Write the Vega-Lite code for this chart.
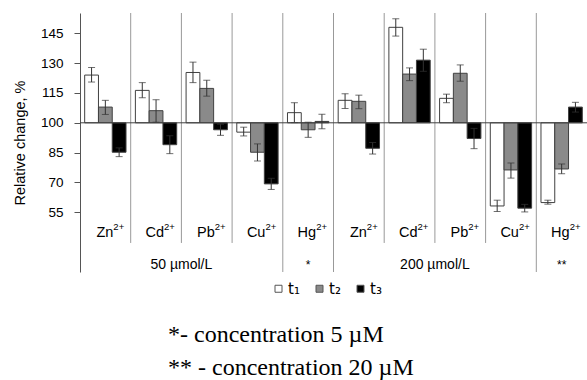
{
  "$schema": "https://vega.github.io/schema/vega-lite/v6.json",
  "width": 507,
  "height": 259,
  "autosize": {"type": "none"},
  "padding": {"left": 80, "top": 13, "right": 0, "bottom": 108},
  "background": "white",
  "config": {"view": {"stroke": null}, "font": "Liberation Sans"},
  "title": {
    "text": ["*- concentration 5 µM", "\u00a0** - concentration 20 µM"],
    "orient": "bottom",
    "anchor": "start",
    "frame": "group",
    "dx": 88,
    "offset": 26,
    "font": "Liberation Serif",
    "fontSize": 24,
    "fontWeight": "normal",
    "lineHeight": 33,
    "color": "#000000"
  },
  "datasets": {
    "bars": [
      {"cat": "Zn50", "series": "t₁", "value": 124.0, "lo": 120.5, "hi": 127.8},
      {"cat": "Zn50", "series": "t₂", "value": 107.9, "lo": 104.2, "hi": 111.3},
      {"cat": "Zn50", "series": "t₃", "value": 85.2, "lo": 83.0, "hi": 87.4},
      {"cat": "Cd50", "series": "t₁", "value": 116.3, "lo": 112.6, "hi": 120.2},
      {"cat": "Cd50", "series": "t₂", "value": 106.1, "lo": 100.3, "hi": 111.6},
      {"cat": "Cd50", "series": "t₃", "value": 89.0, "lo": 84.5, "hi": 93.5},
      {"cat": "Pb50", "series": "t₁", "value": 125.3, "lo": 120.2, "hi": 130.5},
      {"cat": "Pb50", "series": "t₂", "value": 117.3, "lo": 113.4, "hi": 121.4},
      {"cat": "Pb50", "series": "t₃", "value": 96.5, "lo": 93.7, "hi": 99.3},
      {"cat": "Cu50", "series": "t₁", "value": 95.3, "lo": 93.4, "hi": 97.8},
      {"cat": "Cu50", "series": "t₂", "value": 85.2, "lo": 80.8, "hi": 89.4},
      {"cat": "Cu50", "series": "t₃", "value": 69.3, "lo": 66.5, "hi": 72.1},
      {"cat": "Hg5", "series": "t₁", "value": 105.1, "lo": 100.1, "hi": 110.1},
      {"cat": "Hg5", "series": "t₂", "value": 96.5, "lo": 92.7, "hi": 100.3},
      {"cat": "Hg5", "series": "t₃", "value": 100.7, "lo": 97.0, "hi": 104.3},
      {"cat": "Zn200", "series": "t₁", "value": 111.3, "lo": 107.2, "hi": 114.6},
      {"cat": "Zn200", "series": "t₂", "value": 110.8, "lo": 107.1, "hi": 113.9},
      {"cat": "Zn200", "series": "t₃", "value": 87.2, "lo": 84.3, "hi": 90.1},
      {"cat": "Cd200", "series": "t₁", "value": 148.0, "lo": 143.6, "hi": 152.3},
      {"cat": "Cd200", "series": "t₂", "value": 124.5, "lo": 121.2, "hi": 127.6},
      {"cat": "Cd200", "series": "t₃", "value": 131.5, "lo": 125.9, "hi": 137.0},
      {"cat": "Pb200", "series": "t₁", "value": 112.3, "lo": 110.1, "hi": 114.4},
      {"cat": "Pb200", "series": "t₂", "value": 124.9, "lo": 120.9, "hi": 129.1},
      {"cat": "Pb200", "series": "t₃", "value": 92.1, "lo": 87.0, "hi": 97.2},
      {"cat": "Cu200", "series": "t₁", "value": 58.2, "lo": 55.4, "hi": 61.1},
      {"cat": "Cu200", "series": "t₂", "value": 76.3, "lo": 72.2, "hi": 79.8},
      {"cat": "Cu200", "series": "t₃", "value": 57.1, "lo": 55.2, "hi": 59.0},
      {"cat": "Hg20", "series": "t₁", "value": 59.9, "lo": 59.1, "hi": 61.1},
      {"cat": "Hg20", "series": "t₂", "value": 76.8, "lo": 74.4, "hi": 79.3},
      {"cat": "Hg20", "series": "t₃", "value": 107.9, "lo": 105.4, "hi": 110.3}
    ],
    "cats": [
      {"cat": "Zn50", "ion": "Zn", "charge": "2+", "sep": "none"},
      {"cat": "Cd50", "ion": "Cd", "charge": "2+", "sep": "minor"},
      {"cat": "Pb50", "ion": "Pb", "charge": "2+", "sep": "minor"},
      {"cat": "Cu50", "ion": "Cu", "charge": "2+", "sep": "minor"},
      {"cat": "Hg5", "ion": "Hg", "charge": "2+", "sep": "major"},
      {"cat": "Zn200", "ion": "Zn", "charge": "2+", "sep": "major"},
      {"cat": "Cd200", "ion": "Cd", "charge": "2+", "sep": "minor"},
      {"cat": "Pb200", "ion": "Pb", "charge": "2+", "sep": "minor"},
      {"cat": "Cu200", "ion": "Cu", "charge": "2+", "sep": "minor"},
      {"cat": "Hg20", "ion": "Hg", "charge": "2+", "sep": "major"}
    ],
    "groups": [
      {"at": "Pb50", "label": "50 µmol/L", "kind": "span"},
      {"at": "Hg5", "label": "*", "kind": "single"},
      {"at": "Pb200", "label": "200 µmol/L", "kind": "span"},
      {"at": "Hg20", "label": "**", "kind": "single"}
    ]
  },
  "layer": [
    {
      "data": {"name": "bars"},
      "mark": {"type": "bar", "stroke": "#404040", "strokeWidth": 1},
      "encoding": {
        "x": {"field": "cat", "type": "nominal", "axis": null,
              "scale": {"domain": ["Zn50","Cd50","Pb50","Cu50","Hg5","Zn200","Cd200","Pb200","Cu200","Hg20"], "paddingInner": 0, "paddingOuter": 0}},
        "xOffset": {"field": "series", "type": "nominal",
                    "scale": {"domain": ["t₁","t₂","t₃"], "paddingInner": 0, "paddingOuter": 0.34}},
        "y": {"field": "value", "type": "quantitative",
              "scale": {"domain": [25, 155.2], "nice": false, "zero": false},
              "axis": {"title": "Relative change, %", "values": [55,70,85,100,115,130,145],
                       "grid": false, "tickSize": 6, "labelPadding": 11,
                       "labelFontSize": 13.5, "labelColor": "#000000", "labelFont": "Liberation Sans",
                       "titleFontSize": 14.5, "titleFontWeight": "normal", "titleColor": "#000000", "titleFont": "Liberation Sans",
                       "titlePadding": 13, "domainColor": "#555555", "tickColor": "#555555"}},
        "y2": {"datum": 100},
        "fill": {"field": "series", "type": "nominal",
                 "scale": {"domain": ["t₁","t₂","t₃"], "range": ["#ffffff", "#8a8a8a", "#000000"]},
                 "legend": {"orient": "none", "legendX": 191, "legendY": 268, "direction": "horizontal",
                            "title": null, "symbolType": "square", "symbolSize": 49,
                            "symbolStrokeColor": "#555555", "symbolStrokeWidth": 1,
                            "labelFontSize": 15, "labelFont": "DejaVu Sans", "labelColor": "#000000",
                            "labelOffset": 2, "columnPadding": 12}}
      }
    },
    {
      "data": {"name": "bars"},
      "mark": {"type": "rule", "color": "#333333", "strokeWidth": 1},
      "encoding": {
        "x": {"field": "cat", "type": "nominal"},
        "xOffset": {"field": "series", "type": "nominal"},
        "y": {"field": "lo", "type": "quantitative"},
        "y2": {"field": "hi"}
      }
    },
    {
      "data": {"name": "bars"},
      "mark": {"type": "tick", "color": "#333333", "size": 7, "thickness": 1},
      "encoding": {
        "x": {"field": "cat", "type": "nominal"},
        "xOffset": {"field": "series", "type": "nominal"},
        "y": {"field": "lo", "type": "quantitative"}
      }
    },
    {
      "data": {"name": "bars"},
      "mark": {"type": "tick", "color": "#333333", "size": 7, "thickness": 1},
      "encoding": {
        "x": {"field": "cat", "type": "nominal"},
        "xOffset": {"field": "series", "type": "nominal"},
        "y": {"field": "hi", "type": "quantitative"}
      }
    },
    {
      "data": {"name": "cats"},
      "transform": [{"filter": "datum.sep === 'minor'"}],
      "mark": {"type": "rule", "color": "#999999", "strokeWidth": 1},
      "encoding": {
        "x": {"field": "cat", "type": "nominal", "bandPosition": 0},
        "y": {"datum": 155.2},
        "y2": {"datum": 39.6}
      }
    },
    {
      "data": {"name": "cats"},
      "transform": [{"filter": "datum.sep === 'major'"}],
      "mark": {"type": "rule", "color": "#999999", "strokeWidth": 1},
      "encoding": {
        "x": {"field": "cat", "type": "nominal", "bandPosition": 0},
        "y": {"datum": 155.2},
        "y2": {"datum": 25}
      }
    },
    {
      "data": {"values": [{"base": 100}]},
      "mark": {"type": "rule", "color": "#404040", "strokeWidth": 1},
      "encoding": {
        "y": {"field": "base", "type": "quantitative"}
      }
    },
    {
      "data": {"name": "cats"},
      "mark": {"type": "text", "fontSize": 14.5, "font": "Liberation Sans", "color": "#000000", "baseline": "middle", "align": "right", "dx": 8},
      "encoding": {
        "x": {"field": "cat", "type": "nominal"},
        "y": {"datum": 44.6},
        "text": {"field": "ion"}
      }
    },
    {
      "data": {"name": "cats"},
      "mark": {"type": "text", "fontSize": 9.5, "font": "Liberation Sans", "color": "#000000", "baseline": "middle", "align": "left", "dx": 8, "dy": -6},
      "encoding": {
        "x": {"field": "cat", "type": "nominal"},
        "y": {"datum": 44.6},
        "text": {"field": "charge"}
      }
    },
    {
      "data": {"name": "groups"},
      "transform": [{"filter": "datum.kind === 'span'"}],
      "mark": {"type": "text", "fontSize": 14, "font": "Liberation Sans", "color": "#000000", "baseline": "middle"},
      "encoding": {
        "x": {"field": "at", "type": "nominal", "bandPosition": 0},
        "y": {"datum": 28.5},
        "text": {"field": "label"}
      }
    },
    {
      "data": {"name": "groups"},
      "transform": [{"filter": "datum.kind === 'single'"}],
      "mark": {"type": "text", "fontSize": 12, "font": "Liberation Sans", "color": "#000000", "baseline": "middle"},
      "encoding": {
        "x": {"field": "at", "type": "nominal"},
        "y": {"datum": 28.5},
        "text": {"field": "label"}
      }
    }
  ]
}
